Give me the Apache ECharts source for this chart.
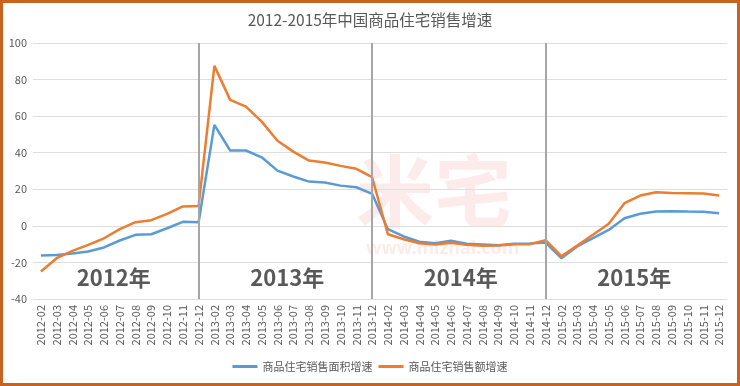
<!DOCTYPE html>
<html>
<head>
<meta charset="utf-8">
<script src="https://cdn.jsdelivr.net/npm/echarts@6/dist/echarts.min.js"></script>
<style>
html,body{margin:0;padding:0;background:#fff;}
#chart{width:740px;height:386px;}
</style>
</head>
<body>
<div id="chart"></div>
<script>
const categories = [
  '2012-02','2012-03','2012-04','2012-05','2012-06','2012-07','2012-08','2012-09','2012-10','2012-11','2012-12',
  '2013-02','2013-03','2013-04','2013-05','2013-06','2013-07','2013-08','2013-09','2013-10','2013-11','2013-12',
  '2014-02','2014-03','2014-04','2014-05','2014-06','2014-07','2014-08','2014-09','2014-10','2014-11','2014-12',
  '2015-02','2015-03','2015-04','2015-05','2015-06','2015-07','2015-08','2015-09','2015-10','2015-11','2015-12'
];
const areaGrowth = [
  -16.2,-15.9,-15.1,-14.0,-11.8,-8.0,-4.9,-4.6,-1.3,2.2,2.0,
  55.2,41.2,41.2,37.5,30.2,27.0,24.2,23.7,22.0,21.1,17.5,
  -1.8,-5.8,-8.7,-9.5,-8.2,-9.8,-10.2,-10.6,-9.8,-9.7,-9.1,
  -17.7,-11.3,-6.7,-2.2,4.2,6.6,7.8,8.0,7.8,7.7,6.9
];
const salesGrowth = [
  -25.0,-17.7,-13.7,-10.4,-6.8,-1.8,2.0,3.1,6.6,10.6,10.9,
  87.5,68.9,65.2,57.0,46.5,40.6,35.7,34.6,32.8,31.2,26.6,
  -4.6,-7.3,-9.5,-10.2,-9.3,-10.4,-10.9,-10.8,-10.0,-10.0,-7.8,
  -16.6,-10.8,-4.9,1.1,12.4,16.6,18.4,18.0,17.9,17.7,16.6
];
const seriesNames = ['商品住宅销售面积增速','商品住宅销售额增速'];
const yearDividers = ['2012-12','2013-12','2014-12'];
const yearLabels = [
  {name:'2012年', at:'2012-07'},
  {name:'2013年', at:'2013-07'},
  {name:'2014年', at:'2014-07'},
  {name:'2015年', at:'2015-07'}
];
const yearLabelValue = -28.5;
const titleText = '2012-2015年中国商品住宅销售增速';

const chart = echarts.init(document.getElementById('chart'));
const font = '"Noto Sans CJK SC","Noto Sans",sans-serif';
chart.setOption({
  animation:false,
  textStyle:{fontFamily:font},
  title:{
    text:titleText, left:'center', top:7,
    textStyle:{fontSize:15.5, fontWeight:'normal', color:'#595959', fontFamily:font}
  },
  graphic:[
    {type:'text', z:-10, left:356, top:152, style:{text:'米宅', font:'bold 78px "Noto Sans CJK SC"', fill:'rgba(235,90,90,0.12)'}},
    {type:'text', z:-10, left:366, top:240, style:{text:'www.mizhai.com', font:'bold 18px "Noto Sans"', fill:'rgba(235,90,90,0.12)'}},
    {type:'rect', z:100, silent:true, shape:{x:1.5,y:1.5,width:737,height:383}, style:{fill:'none', stroke:'#c9621f', lineWidth:3}}
  ],
  legend:{
    bottom:9, left:'center', itemWidth:25, itemHeight:3, itemGap:6, icon:'rect',
    textStyle:{fontSize:11, color:'#595959', fontFamily:font},
    data:seriesNames
  },
  grid:{left:33, right:13, top:43, bottom:87},
  xAxis:{
    type:'category', data:categories, boundaryGap:true,
    axisLine:{show:false}, axisTick:{show:false},
    axisLabel:{rotate:90, interval:0, fontSize:11, color:'#595959', margin:6, fontFamily:font}
  },
  yAxis:{
    type:'value', min:-40, max:100, interval:20,
    axisLine:{show:false}, axisTick:{show:false},
    axisLabel:{fontSize:11, color:'#595959', margin:6, fontFamily:font},
    splitLine:{lineStyle:{color:'#dedede', width:1}}
  },
  series:[
    {
      name:seriesNames[0], type:'line', data:areaGrowth, symbol:'none',
      lineStyle:{color:'#5B9BD5', width:2.5}, itemStyle:{color:'#5B9BD5'},
      markLine:{
        silent:true, symbol:['none','none'], label:{show:false},
        lineStyle:{color:'#a6a6a6', width:2, type:'solid'},
        data:yearDividers.map(d=>({xAxis:d}))
      },
      markPoint:{
        silent:true, symbol:'circle', symbolSize:1,
        itemStyle:{color:'rgba(0,0,0,0)'},
        label:{show:true, position:'inside', formatter:'{b}', fontSize:22, fontWeight:'bold', color:'#595959', offset:[-6,0], fontFamily:'"Noto Sans CJK SC"'},
        data:yearLabels.map(y=>({name:y.name, coord:[y.at, yearLabelValue]}))
      }
    },
    {
      name:seriesNames[1], type:'line', data:salesGrowth, symbol:'none',
      lineStyle:{color:'#ED7D31', width:2.5}, itemStyle:{color:'#ED7D31'}
    }
  ]
});
</script>
</body>
</html>
